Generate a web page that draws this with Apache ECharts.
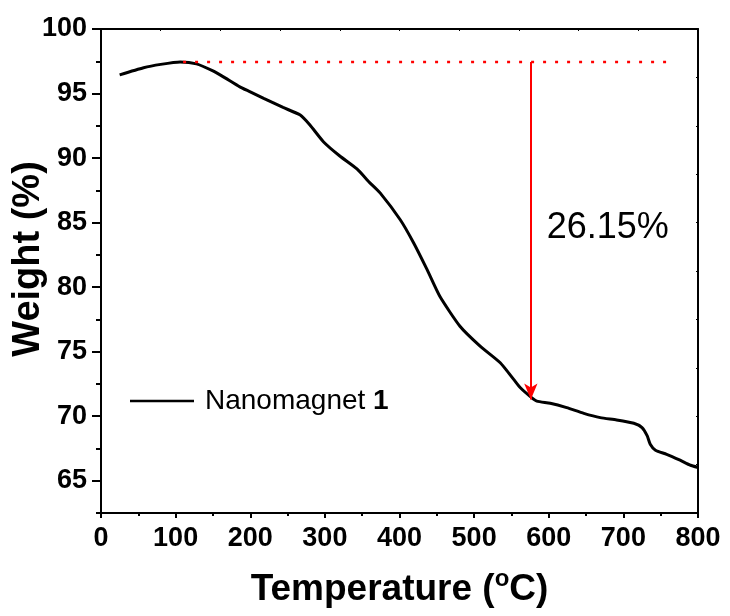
<html>
    <head>
        <meta charset="utf-8">
        <script src="https://cdn.jsdelivr.net/npm/echarts@6/dist/echarts.min.js"></script>
    </head>
    <body>
        <style>
            html, body, #main {
                width: 100%;
                height: 100%;
                margin: 0;
                background: #fff;
            }
        </style>
        <div id="main"></div>
        <script>

        // TGA curve
        var tempC = [25, 57, 80, 106, 128, 150, 164, 186, 200, 218, 244, 267, 280, 298, 320, 343, 360, 374,
            401, 419, 437, 454, 481, 508, 535, 553, 562, 577, 584, 602, 624, 647, 669, 691, 714, 725,
            732, 736, 743, 758, 776, 790, 800];
        var weight = [96.45, 97.0, 97.26, 97.45, 97.3, 96.75, 96.29, 95.52, 95.13, 94.62, 93.92, 93.33, 92.56, 91.27, 90.16, 89.16, 88.1, 87.3,
            85.22, 83.42, 81.35, 79.29, 76.97, 75.43, 74.14, 72.85, 72.2, 71.44, 71.17, 71.0, 70.66, 70.22, 69.89, 69.71, 69.45, 69.12,
            68.47, 67.83, 67.36, 67.05, 66.59, 66.2, 66.03];

        var yMajor = [65, 70, 75, 80, 85, 90, 95, 100];
        var yMinor = [62.5, 67.5, 72.5, 77.5, 82.5, 87.5, 92.5, 97.5];

        // weight loss annotation
        var lossTop = 97.45;
        var lossBottom = 71.3;
        var lossT = 576;
        var dotStart = 110;
        var dotEnd = 760;
        var lossText = '26.15%';
        var lossTextPos = [679, 84.6];

        var font = 'Arial, "Liberation Sans", sans-serif';

        var chart = echarts.init(document.getElementById('main'));

        var data = tempC.map(function (t, i) { return [t, weight[i]]; });

        chart.setOption({
            animation: false,
            grid: { left: 101, right: 32, top: 29, bottom: 103, containLabel: false, outerBoundsMode: 'none' },
            legend: {
                left: 125,
                top: 382,
                icon: 'rect',
                itemWidth: 64,
                itemHeight: 2.5,
                itemStyle: { color: '#000', borderWidth: 0 },
                data: ['Nanomagnet 1'],
                formatter: function () { return 'Nanomagnet {b|1}'; },
                textStyle: {
                    fontFamily: font, fontSize: 28, color: '#000', padding: [0, 0, 0, 6],
                    rich: { b: { fontFamily: font, fontSize: 28, fontWeight: 'bold', color: '#000' } }
                }
            },
            xAxis: [{
                type: 'value',
                min: 0, max: 800, interval: 100,
                splitLine: { show: false },
                axisLine: { lineStyle: { color: '#000', width: 2 } },
                axisTick: { length: 5, lineStyle: { width: 2 } },
                minorTick: { show: true, splitNumber: 2, length: 3, lineStyle: { color: '#000', width: 2 } },
                axisLabel: { color: '#000', fontFamily: font, fontSize: 27, fontWeight: 'bold', margin: 12 },
                name: 'Temperature ({sup|o}C)',
                nameLocation: 'middle',
                nameGap: 54,
                nameTextStyle: {
                    color: '#000', fontFamily: font, fontSize: 37, fontWeight: 'bold',
                    rich: { sup: { fontFamily: font, fontSize: 24, color: '#000', padding: [0, 0, 22, 0] } }
                }
            }, {
                type: 'value',
                position: 'top',
                min: 0, max: 800, interval: 80,
                splitLine: { show: false },
                axisLine: { lineStyle: { color: '#000', width: 2 } },
                axisTick: { inside: true, length: 2, lineStyle: { width: 1 } },
                axisLabel: { show: false }
            }],
            yAxis: [{
                type: 'value',
                min: 62.5, max: 100,
                splitLine: { show: false },
                axisLine: { lineStyle: { color: '#000', width: 2 } },
                axisTick: { customValues: yMajor, length: 9, lineStyle: { width: 2 } },
                axisLabel: { customValues: yMajor, color: '#000', fontFamily: font, fontSize: 27, fontWeight: 'bold', margin: 14 },
                name: 'Weight (%)',
                nameLocation: 'middle',
                nameMoveOverlap: false,
                nameGap: 53,
                nameTextStyle: { color: '#000', fontFamily: font, fontSize: 38, fontWeight: 'bold', padding: [0, 0, 0, 24] }
            }, {
                type: 'value',
                position: 'left',
                min: 62.5, max: 100,
                splitLine: { show: false },
                axisLine: { show: false },
                axisTick: { customValues: yMinor, length: 5, lineStyle: { color: '#000', width: 2 } },
                axisLabel: { show: false }
            }, {
                type: 'value',
                position: 'right',
                min: 0, max: 10, interval: 1,
                splitLine: { show: false },
                axisLine: { lineStyle: { color: '#000', width: 2 } },
                axisTick: { inside: true, length: 2, lineStyle: { width: 1 } },
                axisLabel: { show: false }
            }],
            series: [{
                name: 'Nanomagnet 1',
                type: 'line',
                data: data,
                smooth: 0.2,
                symbol: 'none',
                showSymbol: false,
                lineStyle: { color: '#000', width: 3 },
                itemStyle: { color: '#000' }
            }, {
                name: 'dots',
                type: 'line',
                data: [[dotStart, lossTop], [dotEnd, lossTop]],
                symbol: 'none',
                lineStyle: { color: '#ff0000', width: 2.5, type: [3, 9] },
                markLine: {
                    silent: true,
                    symbol: ['none', 'arrow'],
                    symbolSize: [10, 16],
                    label: { show: false },
                    lineStyle: { color: '#ff0000', width: 2, type: 'solid' },
                    data: [[{ coord: [lossT, lossTop] }, { coord: [lossT, lossBottom] }]]
                },
                markPoint: {
                    silent: true,
                    symbol: 'circle',
                    symbolSize: 0,
                    itemStyle: { color: '#000', opacity: 1 },
                    label: {
                        show: true,
                        position: 'inside',
                        formatter: lossText,
                        color: '#000',
                        opacity: 1,
                        textBorderWidth: 0,
                        fontFamily: font,
                        fontSize: 36
                    },
                    data: [{ coord: lossTextPos }]
                }
            }]
        });

        </script>
    </body>
</html>
